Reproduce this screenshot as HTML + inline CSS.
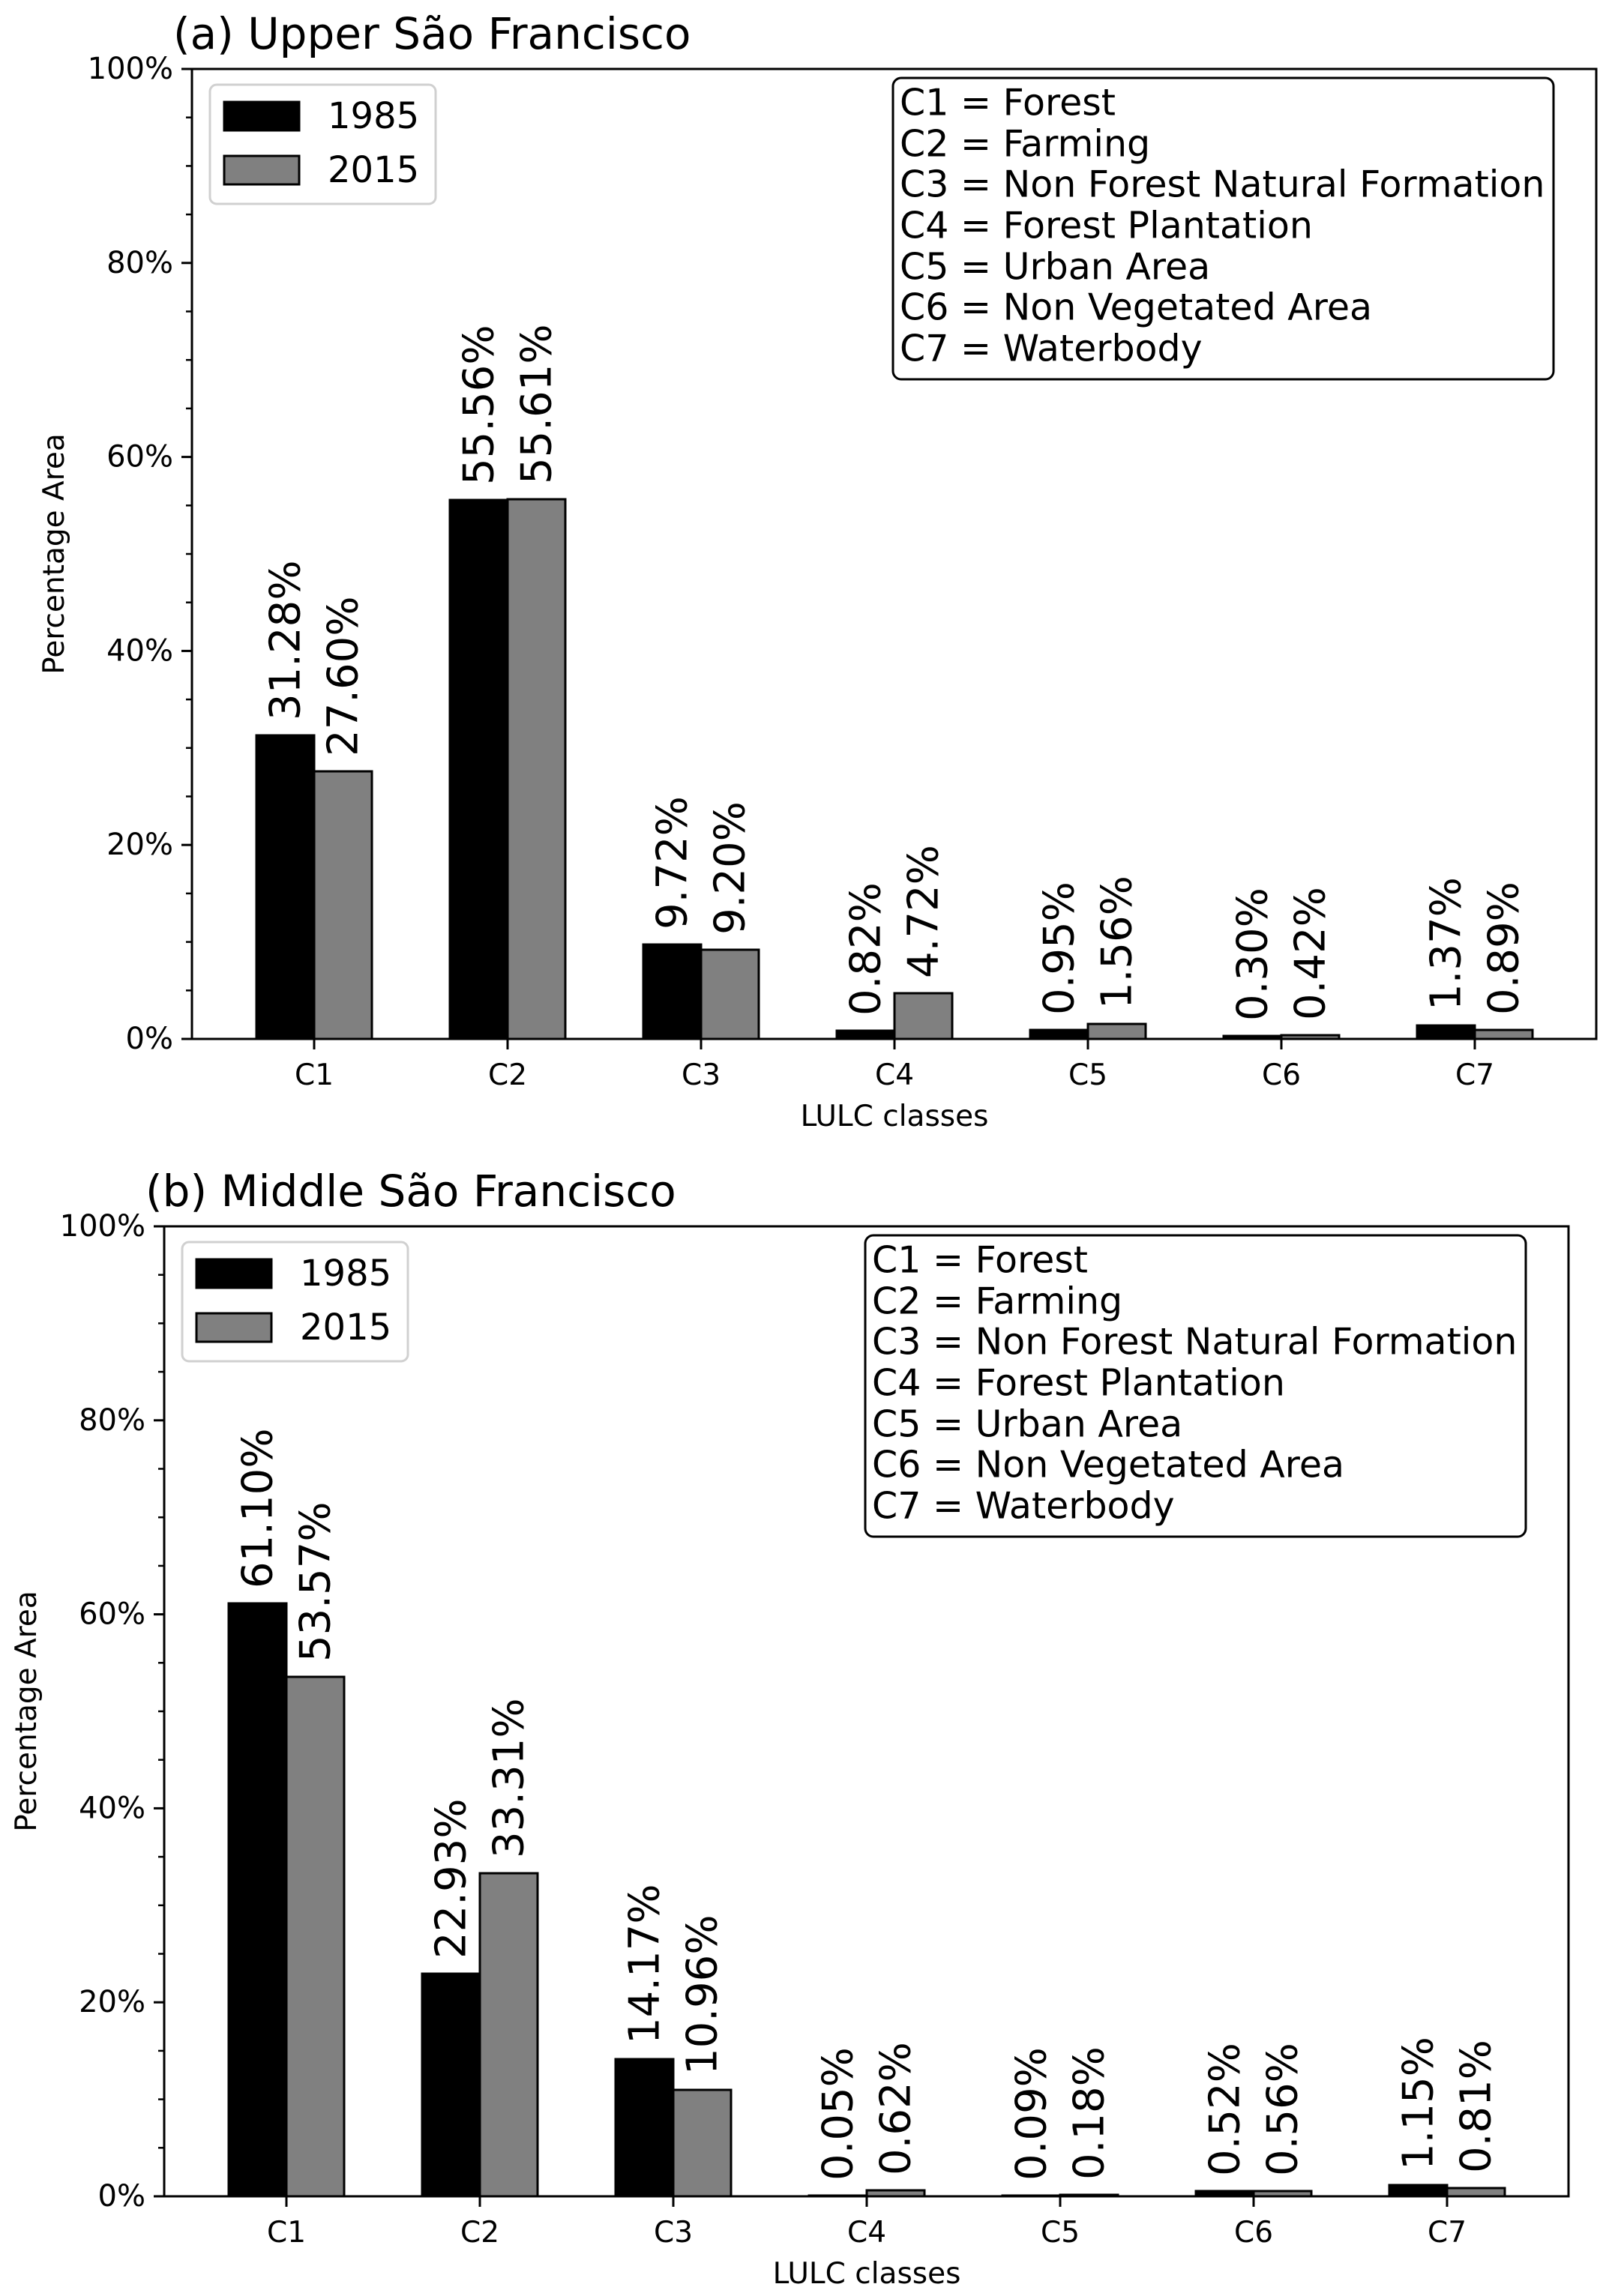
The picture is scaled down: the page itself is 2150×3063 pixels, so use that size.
<!DOCTYPE html>
<html><head><meta charset="utf-8"><style>
html,body{margin:0;padding:0;background:#fff;}
svg{display:block;font-family:"DejaVu Sans","Liberation Sans",sans-serif;}
</style></head><body>
<svg width="2150" height="3063" viewBox="0 0 2150 3063" xmlns="http://www.w3.org/2000/svg">
<defs>
<g id="axes">
  <g stroke="#000" stroke-width="2.5">
    <line x1="248" x2="256" y1="1321.3" y2="1321.3"/><line x1="248" x2="256" y1="1256.6" y2="1256.6"/><line x1="248" x2="256" y1="1191.9" y2="1191.9"/>
    <line x1="248" x2="256" y1="1062.5" y2="1062.5"/><line x1="248" x2="256" y1="997.8" y2="997.8"/><line x1="248" x2="256" y1="933.1" y2="933.1"/>
    <line x1="248" x2="256" y1="803.7" y2="803.7"/><line x1="248" x2="256" y1="739" y2="739"/><line x1="248" x2="256" y1="674.3" y2="674.3"/>
    <line x1="248" x2="256" y1="544.9" y2="544.9"/><line x1="248" x2="256" y1="480.2" y2="480.2"/><line x1="248" x2="256" y1="415.5" y2="415.5"/>
    <line x1="248" x2="256" y1="286.1" y2="286.1"/><line x1="248" x2="256" y1="221.4" y2="221.4"/><line x1="248" x2="256" y1="156.7" y2="156.7"/>
  </g>
  <g stroke="#000" stroke-width="3">
    <line x1="242" x2="256" y1="1386" y2="1386"/><line x1="242" x2="256" y1="1127.2" y2="1127.2"/><line x1="242" x2="256" y1="868.4" y2="868.4"/>
    <line x1="242" x2="256" y1="609.6" y2="609.6"/><line x1="242" x2="256" y1="350.8" y2="350.8"/><line x1="242" x2="256" y1="92" y2="92"/>
    <line x1="419" x2="419" y1="1386" y2="1400"/><line x1="677" x2="677" y1="1386" y2="1400"/><line x1="935" x2="935" y1="1386" y2="1400"/>
    <line x1="1193" x2="1193" y1="1386" y2="1400"/><line x1="1451" x2="1451" y1="1386" y2="1400"/><line x1="1709" x2="1709" y1="1386" y2="1400"/>
    <line x1="1967" x2="1967" y1="1386" y2="1400"/>
  </g>
  <g font-size="40" text-anchor="end" dominant-baseline="central" fill="#000">
    <text x="231" y="1386">0%</text><text x="231" y="1127.2">20%</text><text x="231" y="868.4">40%</text>
    <text x="231" y="609.6">60%</text><text x="231" y="350.8">80%</text><text x="231" y="92">100%</text>
  </g>
  <g font-size="39" text-anchor="middle" fill="#000">
    <text x="419" y="1447">C1</text><text x="677" y="1447">C2</text><text x="935" y="1447">C3</text>
    <text x="1193" y="1447">C4</text><text x="1451" y="1447">C5</text><text x="1709" y="1447">C6</text><text x="1967" y="1447">C7</text>
    <text x="1193" y="1502">LULC classes</text>
    <text transform="translate(85,739) rotate(-90)">Percentage Area</text>
  </g>
  <rect x="280" y="113" width="301" height="159" rx="9" fill="#fff" stroke="#d0d0d0" stroke-width="3"/>
  <rect x="299" y="136" width="100" height="38" fill="#000" stroke="#000" stroke-width="3"/>
  <rect x="299" y="208" width="100" height="38" fill="#808080" stroke="#000" stroke-width="3"/>
  <g font-size="48" dominant-baseline="central"><text x="437" y="155">1985</text><text x="437" y="227">2015</text></g>
  <rect x="1191" y="104" width="881" height="402" rx="11" fill="#fff" stroke="#000" stroke-width="3"/>
  <g font-size="49" dominant-baseline="central">
    <text x="1200" y="137">C1 = Forest</text>
    <text x="1200" y="192">C2 = Farming</text>
    <text x="1200" y="246">C3 = Non Forest Natural Formation</text>
    <text x="1200" y="301">C4 = Forest Plantation</text>
    <text x="1200" y="356">C5 = Urban Area</text>
    <text x="1200" y="410">C6 = Non Vegetated Area</text>
    <text x="1200" y="465">C7 = Waterbody</text>
  </g>
</g>
</defs>

<g>
  <text x="231" y="65" font-size="58">(a) Upper São Francisco</text>
  <g stroke="#000" stroke-width="3">
    <rect x="342" y="981" width="77" height="405" fill="#000"/><rect x="419" y="1029" width="77" height="357" fill="#808080"/>
    <rect x="600" y="667" width="77" height="719" fill="#000"/><rect x="677" y="666" width="77" height="720" fill="#808080"/>
    <rect x="858" y="1260" width="77" height="126" fill="#000"/><rect x="935" y="1267" width="77" height="119" fill="#808080"/>
    <rect x="1116" y="1375" width="77" height="11" fill="#000"/><rect x="1193" y="1325" width="77" height="61" fill="#808080"/>
    <rect x="1374" y="1374" width="77" height="12" fill="#000"/><rect x="1451" y="1366" width="77" height="20" fill="#808080"/>
    <rect x="1632" y="1382" width="77" height="4" fill="#000"/><rect x="1709" y="1381" width="77" height="5" fill="#808080"/>
    <rect x="1890" y="1368" width="77" height="18" fill="#000"/><rect x="1967" y="1374" width="77" height="12" fill="#808080"/>
  </g>
  <g font-size="56" dominant-baseline="central">
    <text transform="translate(381,961) rotate(-90)">31.28%</text><text transform="translate(458,1009) rotate(-90)">27.60%</text>
    <text transform="translate(639,647) rotate(-90)">55.56%</text><text transform="translate(716,646) rotate(-90)">55.61%</text>
    <text transform="translate(897,1240) rotate(-90)">9.72%</text><text transform="translate(974,1247) rotate(-90)">9.20%</text>
    <text transform="translate(1155,1355) rotate(-90)">0.82%</text><text transform="translate(1232,1305) rotate(-90)">4.72%</text>
    <text transform="translate(1413,1354) rotate(-90)">0.95%</text><text transform="translate(1490,1346) rotate(-90)">1.56%</text>
    <text transform="translate(1671,1362) rotate(-90)">0.30%</text><text transform="translate(1748,1361) rotate(-90)">0.42%</text>
    <text transform="translate(1929,1348) rotate(-90)">1.37%</text><text transform="translate(2006,1354) rotate(-90)">0.89%</text>
  </g>
  <use href="#axes"/>
  <rect x="256" y="92" width="1873" height="1294" fill="none" stroke="#000" stroke-width="3"/>
</g>

<g transform="translate(-37,1544)">
  <text x="231" y="65" font-size="58">(b) Middle São Francisco</text>
  <g stroke="#000" stroke-width="3">
    <rect x="342" y="595" width="77" height="791" fill="#000"/><rect x="419" y="693" width="77" height="693" fill="#808080"/>
    <rect x="600" y="1089" width="77" height="297" fill="#000"/><rect x="677" y="955" width="77" height="431" fill="#808080"/>
    <rect x="858" y="1203" width="77" height="183" fill="#000"/><rect x="935" y="1244" width="77" height="142" fill="#808080"/>
    <rect x="1116" y="1385" width="77" height="1" fill="#000"/><rect x="1193" y="1378" width="77" height="8" fill="#808080"/>
    <rect x="1374" y="1385" width="77" height="1" fill="#000"/><rect x="1451" y="1384" width="77" height="2" fill="#808080"/>
    <rect x="1632" y="1379" width="77" height="7" fill="#000"/><rect x="1709" y="1379" width="77" height="7" fill="#808080"/>
    <rect x="1890" y="1371" width="77" height="15" fill="#000"/><rect x="1967" y="1375" width="77" height="11" fill="#808080"/>
  </g>
  <g font-size="56" dominant-baseline="central">
    <text transform="translate(381,575) rotate(-90)">61.10%</text><text transform="translate(458,673) rotate(-90)">53.57%</text>
    <text transform="translate(639,1069) rotate(-90)">22.93%</text><text transform="translate(716,935) rotate(-90)">33.31%</text>
    <text transform="translate(897,1183) rotate(-90)">14.17%</text><text transform="translate(974,1224) rotate(-90)">10.96%</text>
    <text transform="translate(1155,1365) rotate(-90)">0.05%</text><text transform="translate(1232,1358) rotate(-90)">0.62%</text>
    <text transform="translate(1413,1365) rotate(-90)">0.09%</text><text transform="translate(1490,1364) rotate(-90)">0.18%</text>
    <text transform="translate(1671,1359) rotate(-90)">0.52%</text><text transform="translate(1748,1359) rotate(-90)">0.56%</text>
    <text transform="translate(1929,1351) rotate(-90)">1.15%</text><text transform="translate(2006,1355) rotate(-90)">0.81%</text>
  </g>
  <use href="#axes"/>
  <rect x="256" y="92" width="1873" height="1294" fill="none" stroke="#000" stroke-width="3"/>
</g>
</svg>
</body></html>
